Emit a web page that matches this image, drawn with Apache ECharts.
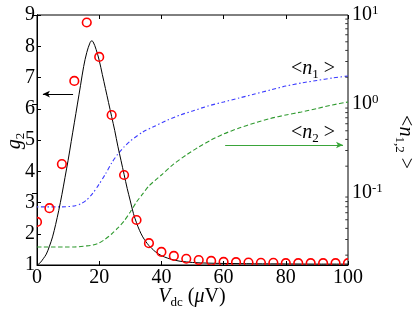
<!DOCTYPE html>
<html>
<head>
<meta charset="utf-8">
<script src="https://cdn.jsdelivr.net/npm/echarts@6/dist/echarts.min.js"></script>
<style>html,body{margin:0;padding:0;background:#fff;}#c{width:415px;height:312px;}</style>
</head>
<body>
<div id="c"></div>
<script>
// ---- data ----
const scatterX  = [0, 4, 8, 12, 16, 20, 24, 28, 32, 36, 40, 44, 48, 52, 56, 60, 64, 68, 72, 76, 80, 84, 88, 92, 96, 100];
const scatterG2 = [2.38, 2.82, 4.23, 6.89, 8.76, 7.66, 5.8, 3.88, 2.44, 1.70, 1.42, 1.29, 1.2, 1.16, 1.13, 1.1, 1.09, 1.08, 1.07, 1.07, 1.06, 1.06, 1.06, 1.06, 1.06, 1.06];

const curveX  = [0, 1, 2, 3, 4, 5, 6, 7, 8, 9, 10, 11, 12, 13, 14, 15, 16, 17, 17.5, 18, 19, 20, 21, 22, 23, 24, 25, 26, 27, 28, 29, 30, 31, 32, 33, 34, 35, 36, 37, 38, 40, 42, 44, 46, 48, 50, 55, 60, 70, 80, 90, 100];
const curveG2 = [1.0, 1.07, 1.2, 1.35, 1.6, 1.9, 2.3, 2.75, 3.25, 3.8, 4.35, 4.95, 5.55, 6.15, 6.75, 7.35, 7.8, 8.1, 8.17, 8.15, 7.9, 7.55, 7.1, 6.65, 6.2, 5.75, 5.3, 4.8, 4.35, 3.9, 3.45, 3.05, 2.65, 2.35, 2.1, 1.9, 1.75, 1.62, 1.52, 1.43, 1.3, 1.22, 1.16, 1.12, 1.1, 1.08, 1.06, 1.05, 1.04, 1.035, 1.03, 1.03];

const n1X    = [0, 8, 12, 14, 16, 18, 20, 22, 24, 26, 28, 30, 34, 38, 42, 46, 50, 55, 60, 65, 70, 75, 80, 85, 90, 95, 100];
const n1Vals = [0.0697, 0.0697, 0.0715, 0.0752, 0.0834, 0.100, 0.126, 0.163, 0.217, 0.274, 0.329, 0.384, 0.484, 0.566, 0.661, 0.752, 0.834, 0.950, 1.053, 1.167, 1.294, 1.435, 1.591, 1.722, 1.837, 1.959, 2.064];

const n2X    = [0, 12, 16, 18, 20, 22, 24, 26, 28, 30, 32, 34, 36, 40, 44, 48, 52, 56, 60, 65, 70, 75, 80, 85, 90, 95, 100];
const n2Vals = [0.0247, 0.0247, 0.0254, 0.0260, 0.0274, 0.0304, 0.0346, 0.0404, 0.0484, 0.0612, 0.0793, 0.0975, 0.120, 0.159, 0.212, 0.267, 0.329, 0.394, 0.460, 0.537, 0.612, 0.687, 0.752, 0.813, 0.889, 0.975, 1.053];

const leftTicks   = [1, 2, 3, 4, 5, 6, 7, 8, 9];
const bottomTicks = [0, 20, 40, 60, 80, 100];
const logMinorTicks = [0.02, 0.03, 0.04, 0.05, 0.06, 0.07, 0.08, 0.09,
                       0.2, 0.3, 0.4, 0.5, 0.6, 0.7, 0.8, 0.9,
                       2, 3, 4, 5, 6, 7, 8, 9];

const g2Arrow = [[11.6, 6.47], [1.9, 6.47]];
const n2Arrow = [[60.5, 0.346], [98.4, 0.346]];

// ---- chart ----
const FONT = 'Liberation Serif';
const BLUE = '#3b3bff', GREEN = '#2f9a2f';
const zip = (xs, ys) => xs.map((x, i) => [x, ys[i]]);
const chart = echarts.init(document.getElementById('c'), null, {renderer: 'canvas'});

const richBase = {
  n: {fontFamily: FONT, fontSize: 20, lineHeight: 24},
  i: {fontFamily: FONT, fontSize: 20, fontStyle: 'italic', lineHeight: 24},
  s: {fontFamily: FONT, fontSize: 13, lineHeight: 13, verticalAlign: 'bottom'}
};
function richColor(c) {
  const r = {};
  for (const k in richBase) r[k] = Object.assign({}, richBase[k], {color: c});
  return r;
}

chart.setOption({
  animation: false,
  backgroundColor: '#fff',
  grid: {left: 37, right: 67, top: 15, bottom: 47, show: true, borderColor: '#000', borderWidth: 1},
  xAxis: [{
    type: 'value', min: bottomTicks[0], max: bottomTicks[bottomTicks.length - 1], interval: 20,
    position: 'bottom',
    axisLine: {show: true, lineStyle: {color: '#000', width: 1}},
    axisTick: {show: true, inside: true, length: 4, lineStyle: {color: '#000'}},
    axisLabel: {fontFamily: FONT, fontSize: 20, color: '#000', margin: 3},
    splitLine: {show: false}
  }, {
    type: 'value', min: 0, max: 100, interval: 20, position: 'top',
    axisLine: {show: false},
    axisTick: {show: true, inside: true, length: 4, lineStyle: {color: '#000'}},
    axisLabel: {show: false}, splitLine: {show: false}
  }],
  yAxis: [{
    type: 'value', min: leftTicks[0], max: leftTicks[leftTicks.length - 1], interval: 1,
    position: 'left',
    axisLine: {show: true, lineStyle: {color: '#000', width: 1}},
    axisTick: {show: true, inside: true, length: 4, lineStyle: {color: '#000'}},
    axisLabel: {fontFamily: FONT, fontSize: 20, color: '#000', margin: 2},
    splitLine: {show: false}
  }, {
    type: 'log', logBase: 10, min: 0.0155, max: 10, position: 'right',
    axisLine: {show: true, lineStyle: {color: '#000', width: 1}},
    axisTick: {show: true, inside: true, length: 5, lineStyle: {color: '#000'}},
    axisLabel: {
      showMinLabel: false, margin: 4, color: '#000', fontFamily: FONT, fontSize: 20,
      formatter: function (v) {
        const l = Math.log10(v), e = Math.round(l);
        if (Math.abs(l - e) > 1e-6) return '';
        return '{b|10}{s|' + e + '}';
      },
      rich: {
        b: {fontFamily: FONT, fontSize: 20, lineHeight: 22, color: '#000'},
        s: {fontFamily: FONT, fontSize: 13, lineHeight: 13, verticalAlign: 'top', color: '#000'}
      }
    },
    splitLine: {show: false}
  }],
  series: [{
    name: 'n1', type: 'line', xAxisIndex: 0, yAxisIndex: 1, data: zip(n1X, n1Vals),
    showSymbol: false, smooth: 0.25, z: 2,
    lineStyle: {color: BLUE, width: 1.1, type: [1.5, 2.5, 4, 2.5]}
  }, {
    name: 'n2', type: 'line', xAxisIndex: 0, yAxisIndex: 1, data: zip(n2X, n2Vals),
    showSymbol: false, smooth: 0.25, z: 2,
    lineStyle: {color: GREEN, width: 1.1, type: [4.5, 2.5]},
    markLine: {
      silent: true, symbol: ['none', 'arrow'], symbolSize: [5, 7],
      label: {show: false},
      lineStyle: {color: '#3aa53a', width: 1.2, type: 'solid'},
      data: [[{coord: n2Arrow[0]}, {coord: n2Arrow[1]}]]
    }
  }, {
    name: 'g2fit', type: 'line', xAxisIndex: 0, yAxisIndex: 0, data: zip(curveX, curveG2),
    showSymbol: false, smooth: 0.35, z: 3,
    lineStyle: {color: '#000', width: 1},
    markLine: {
      silent: true, symbol: ['none', 'arrow'], symbolSize: [5, 7],
      label: {show: false},
      lineStyle: {color: '#000', width: 1, type: 'solid'},
      data: [[{coord: g2Arrow[0]}, {coord: g2Arrow[1]}]]
    }
  }, {
    name: 'g2', type: 'custom', xAxisIndex: 0, yAxisIndex: 0, data: zip(scatterX, scatterG2),
    clip: true, z: 4, encode: {x: 0, y: 1},
    renderItem: function (params, api) {
      const p = api.coord([api.value(0), api.value(1)]);
      return {type: 'circle', shape: {cx: p[0], cy: p[1], r: 4.3},
              style: {fill: 'none', stroke: '#ff0000', lineWidth: 1.6}};
    }
  }, {
    name: 'logMinor', type: 'scatter', xAxisIndex: 0, yAxisIndex: 1,
    data: logMinorTicks.map(v => [100, v]), silent: true, clip: false,
    symbol: 'rect', symbolSize: [2.5, 1], symbolOffset: [-1.5, 0], z: 5,
    itemStyle: {color: '#000'}
  }],
  graphic: [{
    type: 'text', x: 15, y: 141, rotation: Math.PI / 2,
    style: {text: '{i|g}{s|2}', rich: richColor('#000'), align: 'center', verticalAlign: 'middle'}
  }, {
    type: 'text', x: 192, y: 297,
    style: {text: '{i|V}{s|dc}{n| (}{i|μ}{n|V)}', rich: richColor('#000'), align: 'center', verticalAlign: 'middle'}
  }, {
    type: 'text', x: 405, y: 142, rotation: -Math.PI / 2,
    style: {text: '{n|<}{i|n}{s|1,2}{n| >}', rich: richColor('#000'), align: 'center', verticalAlign: 'middle'}
  }, {
    type: 'text', x: 313, y: 69,
    style: {text: '{n|<}{i|n}{s|1}{n| >}', rich: richColor(BLUE), align: 'center', verticalAlign: 'middle'}
  }, {
    type: 'text', x: 313, y: 133,
    style: {text: '{n|<}{i|n}{s|2}{n| >}', rich: richColor(GREEN), align: 'center', verticalAlign: 'middle'}
  }]
});
</script>
</body>
</html>
